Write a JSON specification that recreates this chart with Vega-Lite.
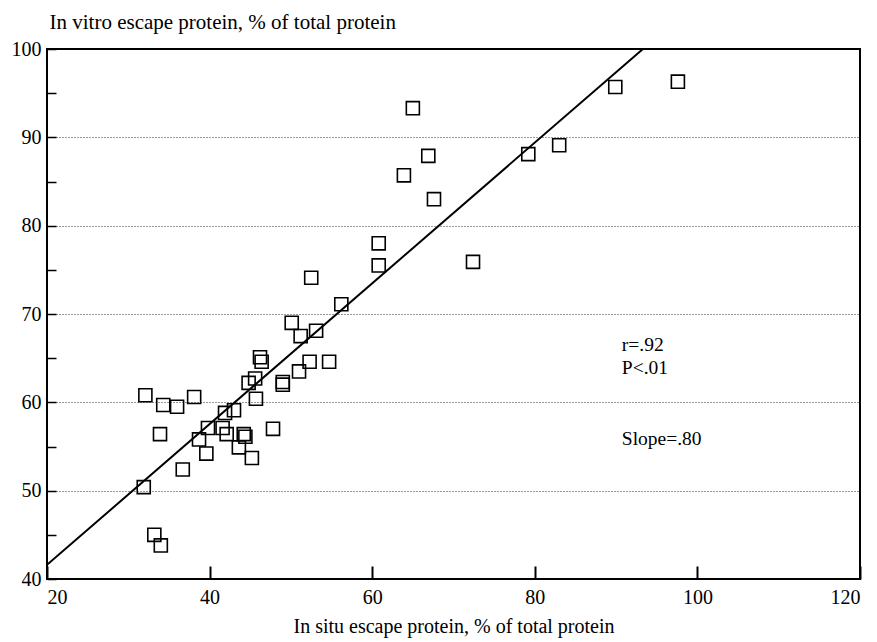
{
  "$schema": "https://vega.github.io/schema/vega-lite/v6.json",
  "width": 813,
  "height": 530,
  "autosize": {"type": "none"},
  "padding": {"left": 47, "top": 49, "right": 17, "bottom": 63},
  "background": "white",
  "config": {
    "view": {"stroke": "black", "strokeWidth": 2},
    "font": "Liberation Serif",
    "axis": {"labelFont": "Liberation Serif", "titleFont": "Liberation Serif", "labelColor": "black", "titleColor": "black", "titleFontWeight": "normal", "domain": false, "tickColor": "black"}
  },
  "datasets": {
    "points": [
      {"insitu": 56.2, "invitro": 71.1},
      {"insitu": 50.1, "invitro": 69.0},
      {"insitu": 51.2, "invitro": 67.5},
      {"insitu": 53.1, "invitro": 68.1},
      {"insitu": 46.2, "invitro": 65.1},
      {"insitu": 46.4, "invitro": 64.6},
      {"insitu": 52.3, "invitro": 64.6},
      {"insitu": 54.7, "invitro": 64.6},
      {"insitu": 51.0, "invitro": 63.5},
      {"insitu": 45.6, "invitro": 62.7},
      {"insitu": 44.8, "invitro": 62.2},
      {"insitu": 49.0, "invitro": 62.3},
      {"insitu": 49.0, "invitro": 62.0},
      {"insitu": 32.1, "invitro": 60.8},
      {"insitu": 34.3, "invitro": 59.7},
      {"insitu": 36.0, "invitro": 59.5},
      {"insitu": 38.1, "invitro": 60.6},
      {"insitu": 45.7, "invitro": 60.4},
      {"insitu": 41.9, "invitro": 58.8},
      {"insitu": 43.0, "invitro": 59.1},
      {"insitu": 39.8, "invitro": 57.1},
      {"insitu": 41.6, "invitro": 57.1},
      {"insitu": 42.1, "invitro": 56.4},
      {"insitu": 44.2, "invitro": 56.4},
      {"insitu": 44.4, "invitro": 56.1},
      {"insitu": 47.8, "invitro": 57.0},
      {"insitu": 33.9, "invitro": 56.4},
      {"insitu": 38.7, "invitro": 55.8},
      {"insitu": 43.6, "invitro": 54.9},
      {"insitu": 39.6, "invitro": 54.2},
      {"insitu": 45.2, "invitro": 53.7},
      {"insitu": 36.7, "invitro": 52.4},
      {"insitu": 31.9, "invitro": 50.4},
      {"insitu": 33.2, "invitro": 45.0},
      {"insitu": 34.0, "invitro": 43.8},
      {"insitu": 60.8, "invitro": 78.0},
      {"insitu": 60.8, "invitro": 75.5},
      {"insitu": 72.4, "invitro": 75.9},
      {"insitu": 52.5, "invitro": 74.1},
      {"insitu": 67.6, "invitro": 83.0},
      {"insitu": 65.0, "invitro": 93.3},
      {"insitu": 66.9, "invitro": 87.9},
      {"insitu": 63.9, "invitro": 85.7},
      {"insitu": 79.2, "invitro": 88.1},
      {"insitu": 83.0, "invitro": 89.1},
      {"insitu": 89.9, "invitro": 95.7},
      {"insitu": 97.6, "invitro": 96.3}
    ],
    "fit": [
      {"insitu": 20, "invitro": 41.6},
      {"insitu": 93.3, "invitro": 100}
    ],
    "notes": [
      {"insitu": 90.7, "invitro": 66.5, "label": "r=.92"},
      {"insitu": 90.7, "invitro": 63.9, "label": "P<.01"},
      {"insitu": 90.7, "invitro": 55.8, "label": "Slope=.80"}
    ]
  },
  "layer": [
    {
      "data": {"name": "points"},
      "mark": {"type": "point", "shape": "square", "filled": false, "size": 170, "stroke": "black", "strokeWidth": 1.6, "opacity": 1},
      "encoding": {
        "x": {
          "field": "insitu", "type": "quantitative",
          "scale": {"domain": [20, 120], "nice": false, "zero": false},
          "axis": {
            "values": [20, 40, 60, 80, 100, 120],
            "title": "In situ escape protein, % of total protein",
            "titleFontSize": 20, "titleY": 53, "titleBaseline": "alphabetic",
            "labelFontSize": 20, "labelPadding": 21, "tickSize": -13, "tickWidth": 2,
            "grid": false
          }
        },
        "y": {
          "field": "invitro", "type": "quantitative",
          "scale": {"domain": [40, 100], "nice": false, "zero": false},
          "axis": {
            "values": [40, 45, 50, 55, 60, 65, 70, 75, 80, 85, 90, 95, 100],
            "labelExpr": "datum.value % 10 === 0 ? datum.label : ''",
            "title": "In vitro escape protein, % of total protein",
            "titleAngle": 0, "titleAlign": "left", "titleBaseline": "alphabetic",
            "titleX": 2, "titleY": -21, "titleFontSize": 21,
            "labelFontSize": 20, "labelPadding": 15, "tickSize": -9, "tickWidth": 1.5,
            "grid": true, "gridColor": "black", "gridDash": [1, 2], "gridWidth": 1,
            "gridOpacity": {"condition": {"test": "datum.value % 10 === 0", "value": 0.8}, "value": 0}
          }
        }
      }
    },
    {
      "data": {"name": "fit"},
      "mark": {"type": "line", "color": "black", "strokeWidth": 2, "clip": true},
      "encoding": {
        "x": {"field": "insitu", "type": "quantitative"},
        "y": {"field": "invitro", "type": "quantitative"}
      }
    },
    {
      "data": {"name": "notes"},
      "mark": {"type": "text", "align": "left", "baseline": "middle", "fontSize": 19.5, "font": "Liberation Serif", "color": "black"},
      "encoding": {
        "x": {"field": "insitu", "type": "quantitative"},
        "y": {"field": "invitro", "type": "quantitative"},
        "text": {"field": "label"}
      }
    }
  ]
}
